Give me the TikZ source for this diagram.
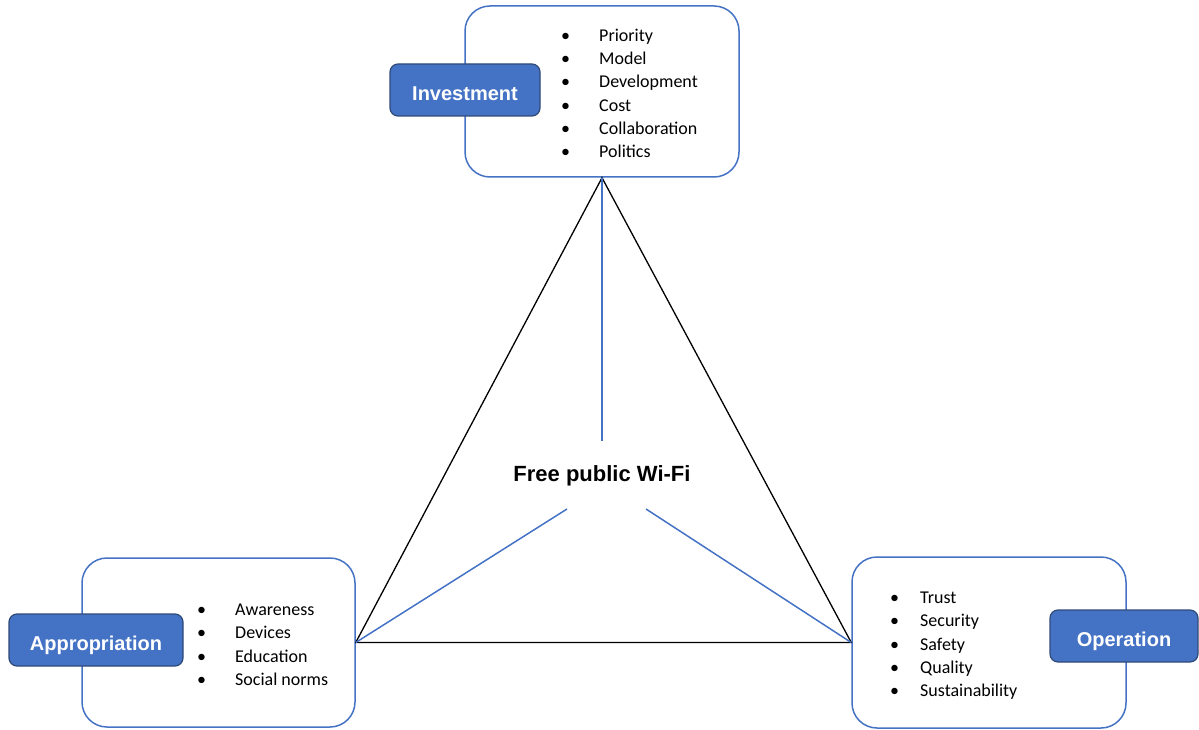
\documentclass[tikz,border=0pt]{standalone}
\usepackage{fontspec}
\setmainfont{Carlito}
\newfontfamily\labelfont{Liberation Sans}
\usetikzlibrary{positioning}

\definecolor{boxblue}{HTML}{4472C4}
\definecolor{boxdark}{HTML}{2F4A78}

\newcommand{\itm}[2][38pt]{\makebox[#1][l]{\textbullet}#2}

\begin{document}
\begin{tikzpicture}[x=1pt, y=-1pt,
            outerbox/.style = {draw = boxblue, line width = 1.5pt, fill = white,
                               rounded corners = 25pt, inner sep = 0pt},
            labelbox/.style = {draw = boxdark, line width = 1.2pt, fill = boxblue,
                               rounded corners = 8pt, text = white, inner sep = 0pt,
                               text height = 20.5pt, text depth = 0pt,
                               font = \labelfont\fontsize{20}{24}\selectfont\bfseries},
            itemlist/.style = {align = left, inner sep = 0pt, anchor = north west,
                               font = \fontsize{18}{23.2}\selectfont},
            side/.style = {draw = black, line width = 1.3pt},
            spoke/.style = {draw = boxblue, line width = 1.5pt}
            ]
    \useasboundingbox (0,0) rectangle (1199,730);

    % outer boxes
    \node[outerbox, minimum width = 274pt, minimum height = 171pt] (inv) at (602,91.5) {};
    \node[outerbox, minimum width = 273pt, minimum height = 169pt] (app) at (218.5,642.5) {};
    \node[outerbox, minimum width = 274pt, minimum height = 171pt] (ope) at (989,642.5) {};

    % triangle
    \draw[side] (inv.south) -- (app.east) -- (ope.west) -- cycle;

    % centre
    \node[inner sep = 0pt, font = \labelfont\fontsize{22}{26}\selectfont\bfseries] (hub) at (602,476) {Free public Wi-Fi};
    \coordinate (hubtop) at (602,441);
    \coordinate (hubleft) at (567,509);
    \coordinate (hubright) at (646,509);
    \draw[spoke] (inv.south) -- (hubtop);
    \draw[spoke] (app.east) -- (hubleft);
    \draw[spoke] (ope.west) -- (hubright);

    % labels
    \node[labelbox, minimum width = 150pt, minimum height = 52pt] (invlabel) at (465,90) {Investment};
    \node[labelbox, minimum width = 174pt, minimum height = 52pt] (applabel) at (96,640) {Appropriation};
    \node[labelbox, minimum width = 148pt, minimum height = 52pt] (opelabel) at (1124,636) {Operation};

    % lists
    \node[itemlist] (invlist) at (561,29) {\itm{Priority}\\ \itm{Model}\\ \itm{Development}\\ \itm{Cost}\\ \itm{Collaboration}\\ \itm{Politics}};
    \node[itemlist] (applist) at (197,604) {\itm{Awareness}\\ \itm{Devices}\\ \itm{Education}\\ \itm{Social norms}};
    \node[itemlist] (opelist) at (890,592) {\itm[30pt]{Trust}\\ \itm[30pt]{Security}\\ \itm[30pt]{Safety}\\ \itm[30pt]{Quality}\\ \itm[30pt]{Sustainability}};
\end{tikzpicture}
\end{document}
